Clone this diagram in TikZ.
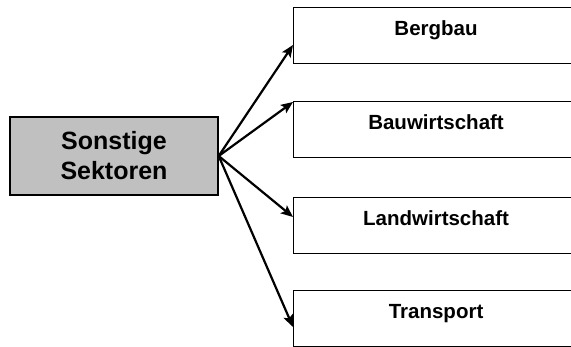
\documentclass[tikz,border=0pt]{standalone}
\usepackage{fontspec}
\setmainfont{Liberation Sans}
\usetikzlibrary{arrows.meta,calc}
\definecolor{boxgray}{HTML}{C0C0C0}
\tikzset{
  srcbox/.style={draw=black, line width=1.4pt, fill=boxgray, minimum width=208pt, minimum height=78pt, inner sep=0pt, align=center, font=\bfseries\fontsize{25}{30}\selectfont},
  sectorbox/.style={draw=black, line width=1.1pt, anchor=north west, minimum width=285pt, inner sep=0pt, text height=28pt, text depth=28pt, font=\bfseries\fontsize{20.5}{24}\selectfont},
  link/.style={line width=2.2pt, -{Stealth[length=12pt,width=10pt,inset=2.5pt]}}
}
\begin{document}
\begin{tikzpicture}[x=1pt,y=1pt]
\useasboundingbox (0,0) rectangle (571,347);
\node[srcbox] (src) at (114,191) {Sonstige\\Sektoren};
\node[sectorbox] (bergbau) at (293,340) {Bergbau};
\node[sectorbox] (bau) at (293,246) {Bauwirtschaft};
\node[sectorbox] (land) at (293,150) {Landwirtschaft};
\node[sectorbox] (trans) at (293,57) {Transport};
\draw[link] (src.east) -- ([yshift=-38pt]bergbau.north west);
\draw[link] (src.east) -- ([yshift=-1pt]bau.north west);
\draw[link] (src.east) -- ([yshift=-20pt]land.north west);
\draw[link] (src.east) -- ([yshift=-37pt]trans.north west);
\end{tikzpicture}
\end{document}
